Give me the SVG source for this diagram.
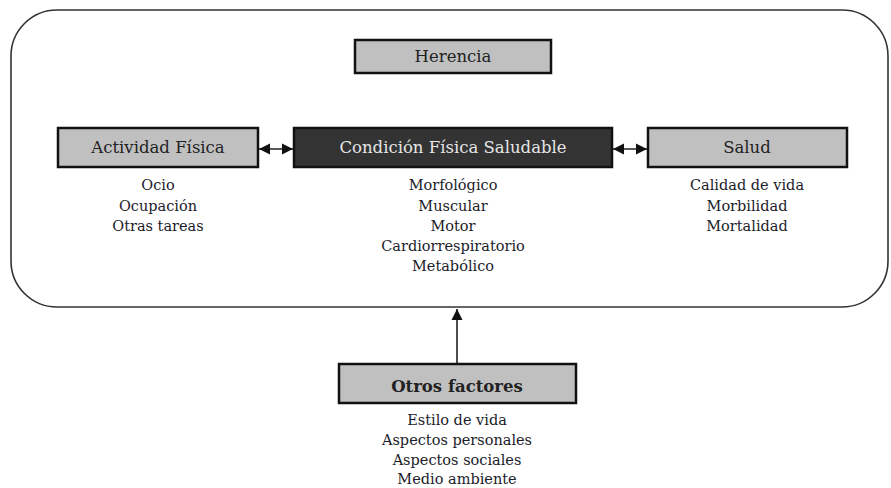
<svg xmlns="http://www.w3.org/2000/svg" width="891" height="488" viewBox="0 0 891 488">
<style>
.box{fill:#c0c0c0;stroke:#111;stroke-width:2.5}
.dark{fill:#333;stroke:#111;stroke-width:2.5}
.lbl{font-family:"DejaVu Serif","Liberation Serif",serif;font-size:16.5px;fill:#222;text-anchor:middle}
.lblw{font-family:"DejaVu Serif","Liberation Serif",serif;font-size:16.5px;fill:#e6e6e6;text-anchor:middle}
.sub{font-family:"DejaVu Serif","Liberation Serif",serif;font-size:14.5px;fill:#1c1c2a;text-anchor:middle}
.con{stroke:#222;stroke-width:1.6;fill:none}
</style>
<defs>
<marker id="ah" viewBox="0 0 10 10" refX="10" refY="5" markerWidth="7" markerHeight="7" orient="auto-start-reverse" markerUnits="strokeWidth">
<path d="M0,0 L10,5 L0,10 z" fill="#111"/>
</marker>
</defs>
<rect id="frame" x="11" y="10" width="877" height="297" rx="46" ry="46" fill="none" stroke="#333" stroke-width="1.6"/>
<g id="connectors">
<line class="con" x1="259" y1="149" x2="293" y2="149" marker-start="url(#ah)" marker-end="url(#ah)"/>
<line class="con" x1="613" y1="149" x2="647" y2="149" marker-start="url(#ah)" marker-end="url(#ah)"/>
<line class="con" x1="457" y1="364" x2="457" y2="309" marker-end="url(#ah)"/>
</g>
<g id="herencia">
<rect class="box" x="355" y="40" width="196" height="33"/>
<text class="lbl" x="453" y="62">Herencia</text>
</g>
<g id="actividad">
<rect class="box" x="58" y="128" width="200" height="39"/>
<text class="lbl" x="158" y="153">Actividad Física</text>
<text class="sub" x="158" y="190">Ocio</text>
<text class="sub" x="158" y="211">Ocupación</text>
<text class="sub" x="158" y="231">Otras tareas</text>
</g>
<g id="condicion">
<rect class="dark" x="294" y="128" width="318" height="39"/>
<text class="lblw" x="453" y="153">Condición Física Saludable</text>
<text class="sub" x="453" y="190">Morfológico</text>
<text class="sub" x="453" y="211">Muscular</text>
<text class="sub" x="453" y="231">Motor</text>
<text class="sub" x="453" y="251">Cardiorrespiratorio</text>
<text class="sub" x="453" y="271">Metabólico</text>
</g>
<g id="salud">
<rect class="box" x="648" y="128" width="199" height="39"/>
<text class="lbl" x="747" y="153">Salud</text>
<text class="sub" x="747" y="190">Calidad de vida</text>
<text class="sub" x="747" y="211">Morbilidad</text>
<text class="sub" x="747" y="231">Mortalidad</text>
</g>
<g id="otros">
<rect class="box" x="339" y="364" width="237" height="39"/>
<text class="lbl" x="457" y="392" font-weight="bold">Otros factores</text>
<text class="sub" x="457" y="425">Estilo de vida</text>
<text class="sub" x="457" y="445">Aspectos personales</text>
<text class="sub" x="457" y="465">Aspectos sociales</text>
<text class="sub" x="457" y="484">Medio ambiente</text>
</g>
</svg>
